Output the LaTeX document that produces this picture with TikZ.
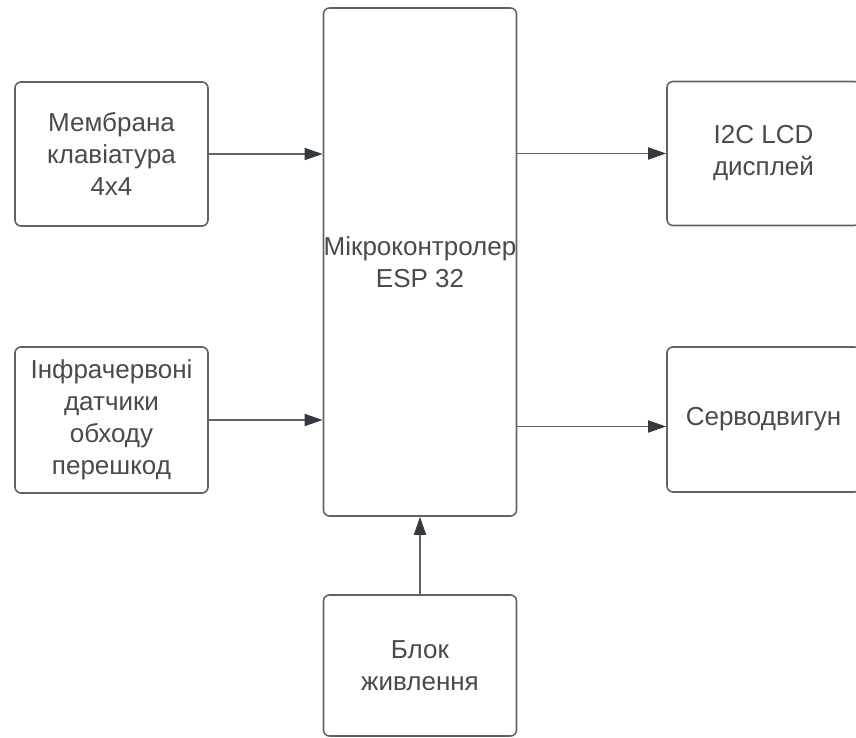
\documentclass[tikz,border=0pt]{standalone}
\usepackage{fontspec}
\setmainfont{Liberation Sans}
\usetikzlibrary{arrows.meta}
\definecolor{linegray}{HTML}{5F6368}
\definecolor{textgray}{HTML}{4A4A4A}
\definecolor{headgray}{HTML}{343A40}

\begin{document}
\begin{tikzpicture}[x = 1pt, y = -1pt,
 block/.style = {draw = linegray, line width = 1.6pt, rounded corners = 6pt, fill = white,
   text = textgray, align = center, inner sep = 0pt,
   minimum width = 193pt, minimum height = 144pt, font = \fontsize{26}{32}\selectfont},
 link/.style = {draw = linegray, line width = 1.6pt,
   -{Triangle[length = 18pt, width = 12pt, color = headgray]}}]
 \useasboundingbox (0, 0) rectangle (856, 738);

 \node[block] (keypad) at (111.5, 154) {Мембрана\\клавіатура\\4x4};
 \node[block, minimum height = 146pt] (irsens) at (111.5, 420) {Інфрачервоні\\датчики\\обходу\\перешкод};
 \node[block, minimum height = 508pt] (mcu) at (420, 262) {Мікроконтролер\\ESP 32};
 \node[block] (lcd) at (763.5, 153.5) {I2C LCD\\дисплей};
 \node[block, minimum height = 145pt] (servo) at (763.5, 419.5) {\raisebox{-7pt}{Серводвигун}};
 \node[block, minimum height = 141pt] (power) at (420, 665.5) {Блок\\живлення};

 \coordinate (servoin) at ([yshift = -7pt]servo.west);

 \draw[link] (keypad.east) -- (keypad.east -| mcu.west);
 \draw[link] (irsens.east) -- (irsens.east -| mcu.west);
 \draw[link] (mcu.east |- lcd.west) -- (lcd.west);
 \draw[link] (mcu.east |- servoin) -- (servoin);
 \draw[link] (power.north) -- (mcu.south);
\end{tikzpicture}
\end{document}
